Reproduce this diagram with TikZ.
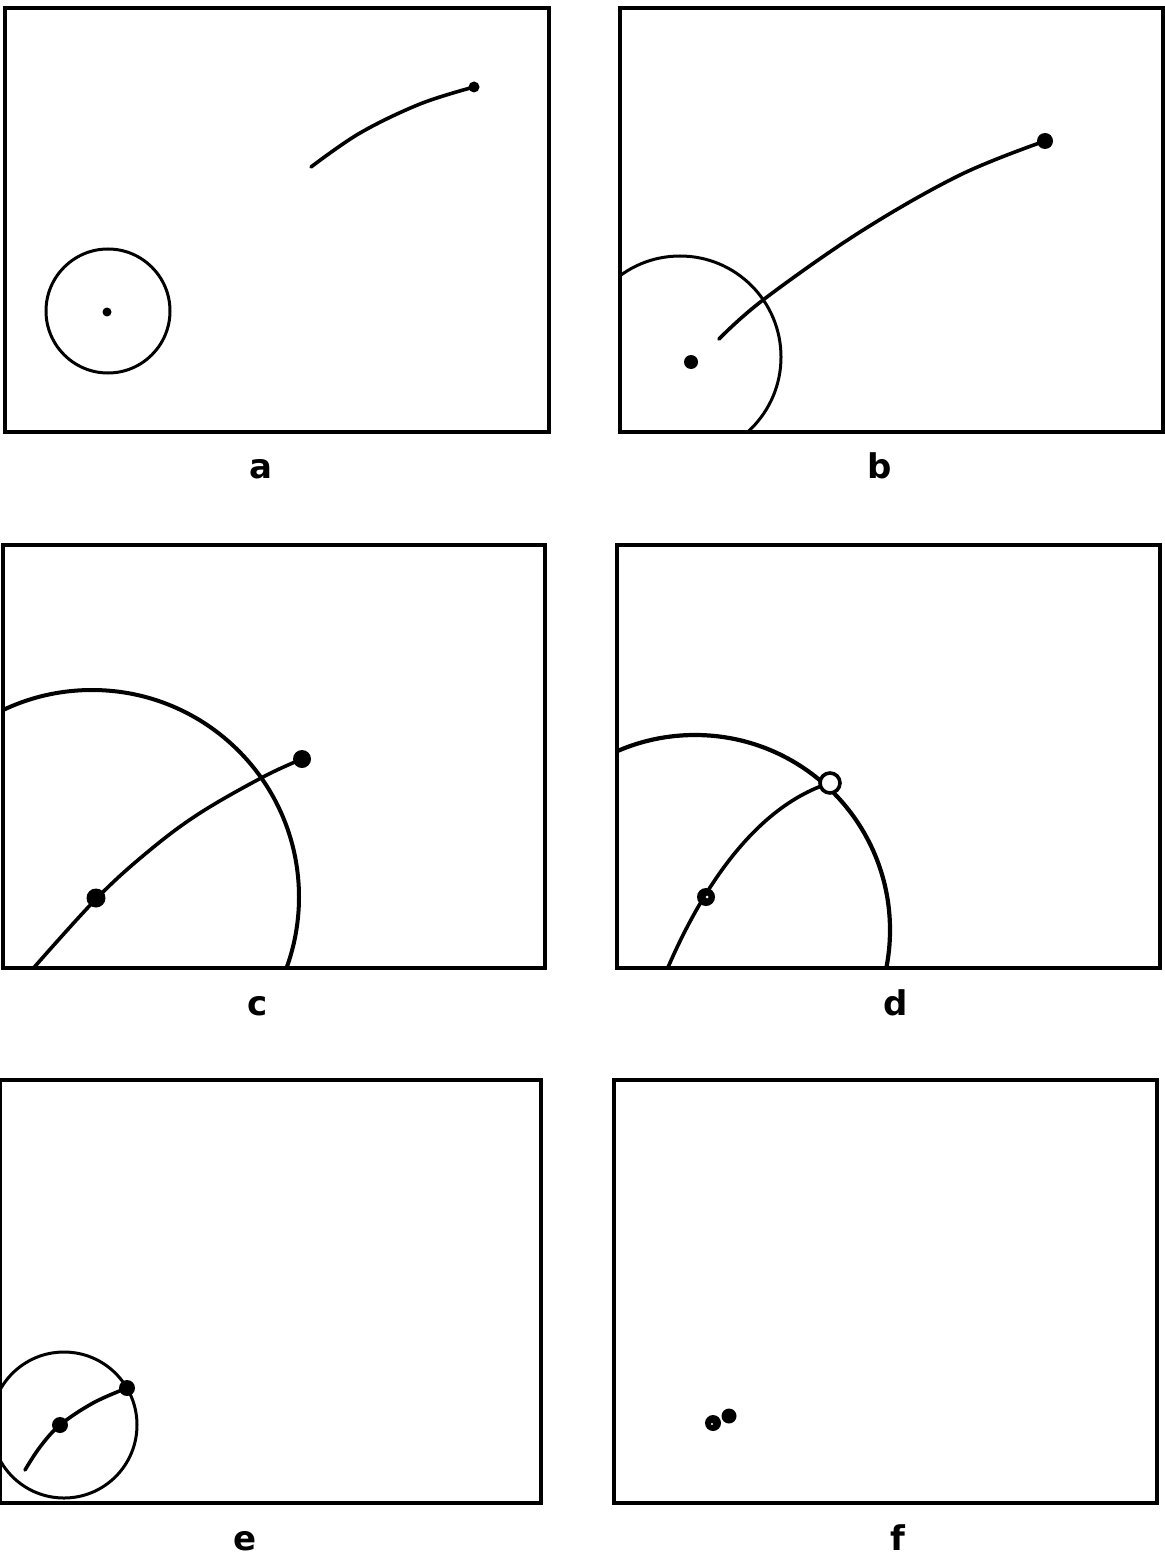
\documentclass[tikz,border=0pt]{standalone}
\usepackage{fontspec}
\newfontfamily\lblfont{DejaVu Sans}
\begin{document}
\begin{tikzpicture}[x=0.5pt,y=-0.5pt,
  frame/.style={line width=1.7pt},
  curve/.style={line width=1.8pt, line cap=round},
  ring/.style={line width=1.5pt},
  lbl/.style={font=\lblfont\bfseries\fontsize{17}{17}\selectfont, anchor=base}]
\useasboundingbox[fill=white] (0,0) rectangle (1165,1556);

% ---------- panel a ----------
\draw[frame] (5,8) rectangle (549,432);
\draw[ring] (108,311) circle[radius=62];
\fill (107,312) circle[radius=4.5];
\draw[curve] plot[smooth, tension=0.6] coordinates {(311,167) (360,133) (420,104) (474,87)};
\fill (474,87) circle[radius=5.5];
\node[lbl] (la) at (261,478) {a};

% ---------- panel b ----------
\draw[frame] (620,8) rectangle (1163,432);
\begin{scope}
  \clip (620,8) rectangle (1163,432);
  \draw[ring] (680,357) circle[radius=101];
\end{scope}
\fill (691,362) circle[radius=7];
\draw[curve] plot[smooth, tension=0.6] coordinates {(719,339) (763,300) (860,232) (960,175) (1045,141)};
\fill (1045,141) circle[radius=8];
\node[lbl] (lb) at (880,478) {b};

% ---------- panel c ----------
\draw[frame] (3,545) rectangle (545,968);
\begin{scope}
  \clip (3,545) rectangle (545,968);
  \draw[line width=2pt] (92,897) circle[radius=207];
  \draw[curve] plot[smooth, tension=0.6] coordinates {(30,972) (97,898) (150,850) (200,813) (263,777) (302,759)};
\end{scope}
\fill (96,898) circle[radius=9.5];
\fill (302,759) circle[radius=9];
\node[lbl] (lc) at (258,1015) {c};

% ---------- panel d ----------
\draw[frame] (617,545) rectangle (1160,968);
\begin{scope}
  \clip (617,545) rectangle (1160,968);
  \draw[line width=2.1pt] (695,930) circle[radius=195];
  \draw[curve] (666,972) .. controls (705,880) and (760,805) .. (830,783);
\end{scope}
\fill (706,897) circle[radius=9];
\fill[white] (707,897) circle[radius=1.5];
\draw[line width=1.8pt, fill=white] (830,783) circle[radius=10];
\node[lbl] (ld) at (896,1015) {d};

% ---------- panel e ----------
\draw[frame] (0,1080) rectangle (541,1503);
\begin{scope}
  \clip (0,1080) rectangle (541,1503);
  \draw[ring] (64,1425) circle[radius=73];
\end{scope}
\draw[curve] plot[smooth, tension=0.6] coordinates {(25,1470) (40,1447) (60,1425) (93,1403) (127,1388)};
\fill (60,1425) circle[radius=8];
\fill (127,1388) circle[radius=8];
\node[lbl] (le) at (245,1550) {e};

% ---------- panel f ----------
\draw[frame] (614,1080) rectangle (1157,1503);
\fill (713,1423) circle[radius=8];
\fill[white] (712,1424) circle[radius=1.2];
\fill (729,1416) circle[radius=7.5];
\node[lbl] (lf) at (898,1550) {f};
\end{tikzpicture}
\end{document}
